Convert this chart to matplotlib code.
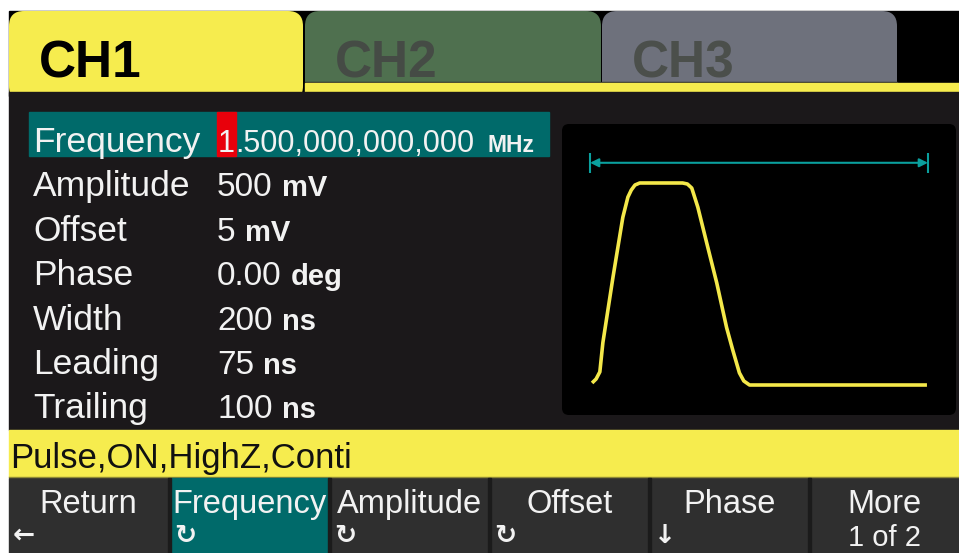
import matplotlib
matplotlib.use("Agg")
import matplotlib.pyplot as plt
from matplotlib.patches import Rectangle, FancyBboxPatch
from matplotlib import font_manager

# --- data ---
tab_names = ["CH1", "CH2", "CH3"]
param_names = ["Frequency", "Amplitude", "Offset", "Phase", "Width", "Leading", "Trailing"]
param_numbers = ["1.500,000,000,000", "500", "5", "0.00", "200", "75", "100"]
param_units = ["MHz", "mV", "mV", "deg", "ns", "ns", "ns"]
status_text = "Pulse,ON,HighZ,Conti"
key_labels = ["Return", "Frequency", "Amplitude", "Offset", "Phase", "More"]
key_icons = ["\u2190", "\u21bb", "\u21bb", "\u21bb", "\u2193", "1 of 2"]
selected_key = 1

# pulse preview: time (fraction of period) and normalised level
wave_t = [0.006, 0.018, 0.029, 0.038, 0.068, 0.097, 0.112, 0.122, 0.133, 0.147,
          0.274, 0.288, 0.301, 0.319, 0.345, 0.375, 0.404, 0.422, 0.442, 0.455,
          0.472, 0.997]
wave_v = [-0.98, -0.94, -0.87, -0.58, 0.07, 0.66, 0.86, 0.93, 0.98, 1.0,
          1.0, 0.99, 0.95, 0.76, 0.41, 0.01, -0.43, -0.65, -0.88, -0.96,
          -1.0, -1.0]
period_span = [0.0, 1.0]
period_level = 1.2

# --- colours ---
YELLOW = "#f6ec4e"
TEAL = "#006a6a"
PANEL = "#1b181a"
KEYBG = "#2f2f2f"
GREEN_TAB = "#4f704f"
GRAY_TAB = "#6e717c"
WHITE = "#f2f2f2"

names = {f.name for f in font_manager.fontManager.ttflist}
NARROW = "Liberation Sans Narrow" if "Liberation Sans Narrow" in names else "Liberation Sans"
SANS = "Liberation Sans"

fig = plt.figure(figsize=(9.59, 5.53), dpi=100)
ax = fig.add_axes([0, 0, 1, 1])
ax.set_xlim(0, 959)
ax.set_ylim(553, 0)
ax.axis("off")

# black strip behind the tabs
ax.add_patch(Rectangle((9, 11), 950, 85, color="black", zorder=0))

tab_x = [9, 305, 602]
tab_w = [294, 296, 295]
tab_col = [YELLOW, GREEN_TAB, GRAY_TAB]
tab_txt = ["black", "#454b45", "#4b4f4b"]
for i in range(len(tab_names)):
    ax.add_patch(FancyBboxPatch((tab_x[i], 11), tab_w[i], 90,
                                boxstyle="round,pad=0,rounding_size=15",
                                fc=tab_col[i], ec="none", zorder=1))
    ax.text(tab_x[i] + 30, 78, tab_names[i], fontsize=42 if NARROW != SANS else 37,
            family=NARROW, weight="bold", color=tab_txt[i], va="baseline", zorder=3)

ax.plot([305, 897], [82, 82], color="#2a2a2a", lw=1, zorder=2)
ax.add_patch(Rectangle((305, 83), 654, 9, color=YELLOW, zorder=2))

# main panel
ax.add_patch(Rectangle((9, 92), 950, 338, color=PANEL, zorder=2))

# highlighted frequency row
ax.add_patch(Rectangle((29, 112), 520, 44, color=TEAL, zorder=3))

fig.canvas.draw()
renderer = fig.canvas.get_renderer()

row0 = 152
pitch = 44.4
for i in range(len(param_names)):
    y = row0 + i * pitch
    ax.text(33, y, param_names[i], fontsize=25.5, family=SANS, color=WHITE,
            va="baseline", zorder=5)
    if i == 0:
        first = ax.text(218, y, param_numbers[i][0], fontsize=22, family=SANS,
                        color=WHITE, va="baseline", zorder=6)
        bb = first.get_window_extent(renderer)
        ax.add_patch(Rectangle((217, 112), bb.x1 - 217 + 1, 44, color="#e8000b", zorder=4))
        rest = ax.text(bb.x1, y, param_numbers[i][1:], fontsize=22, family=SANS,
                       color=WHITE, va="baseline", zorder=6)
        bb = rest.get_window_extent(renderer)
        ax.text(bb.x1 + 13, y, param_units[i], fontsize=16.5, family=SANS,
                weight="bold", color=WHITE, va="baseline", zorder=6)
    else:
        num = ax.text(217, y, param_numbers[i], fontsize=24, family=SANS,
                      color=WHITE, va="baseline", zorder=6)
        bb = num.get_window_extent(renderer)
        ax.text(bb.x1 + 9, y, param_units[i], fontsize=21, family=SANS,
                weight="bold", color=WHITE, va="baseline", zorder=6)

# waveform panel
ax.add_patch(FancyBboxPatch((562, 124), 394, 291, boxstyle="round,pad=0,rounding_size=7",
                            fc="black", ec="none", zorder=3))

# status bar
ax.add_patch(Rectangle((9, 430), 950, 47, color=YELLOW, zorder=3))
ax.plot([9, 959], [476.5, 476.5], color="#8f8a35", lw=1, zorder=4)
ax.text(10, 468, status_text, fontsize=25, family=SANS, color="#111111",
        va="baseline", zorder=5)

# soft keys
ax.add_patch(Rectangle((9, 478), 950, 75, color=KEYBG, zorder=3))
key_x = [9, 170, 330, 490, 650, 810]
key_r = [168, 329, 489, 649, 809, 959]
for i in range(len(key_labels)):
    if i == selected_key:
        ax.add_patch(Rectangle((key_x[i] + 1, 478), key_r[i] - key_x[i] - 1, 75,
                               color=TEAL, zorder=4))
    if i > 0:
        ax.add_patch(Rectangle((key_x[i] - 2, 478), 3, 75, color="#1b1b1b", zorder=4))
    cx = (key_x[i] + key_r[i]) / 2
    ax.text(cx, 513, key_labels[i], fontsize=23.5, family=SANS, color=WHITE,
            ha="center", va="baseline", zorder=6)
    if len(key_icons[i]) > 1:
        ax.text(cx, 552, key_icons[i], fontsize=21, family=SANS, color=WHITE,
                ha="center", va="bottom", zorder=6)
    else:
        ax.text(key_x[i] + 4, 536, key_icons[i], fontsize=19, family="DejaVu Sans",
                weight="bold", color=WHITE, ha="left", va="center", zorder=6)

# waveform axes
wax = fig.add_axes([562 / 959, (553 - 415) / 553, 394 / 959, 291 / 553])
wax.set_xlim(-0.083, 1.083)
wax.set_ylim(-1.297, 1.584)
wax.axis("off")
wax.patch.set_alpha(0)
wax.plot(wave_t, wave_v, color="#f4e84a", lw=2.6, solid_joinstyle="round",
         solid_capstyle="butt")
wax.annotate("", xy=(period_span[0], period_level), xytext=(period_span[1], period_level),
             arrowprops=dict(arrowstyle="<|-|>,head_length=0.5,head_width=0.25",
                             color="#0aa09e", lw=1.5, shrinkA=0, shrinkB=0))
wax.vlines(period_span, period_level - 0.1, period_level + 0.1, color="#0aa09e", lw=1.5)

fig.savefig("out.png", dpi=100, facecolor="white")
